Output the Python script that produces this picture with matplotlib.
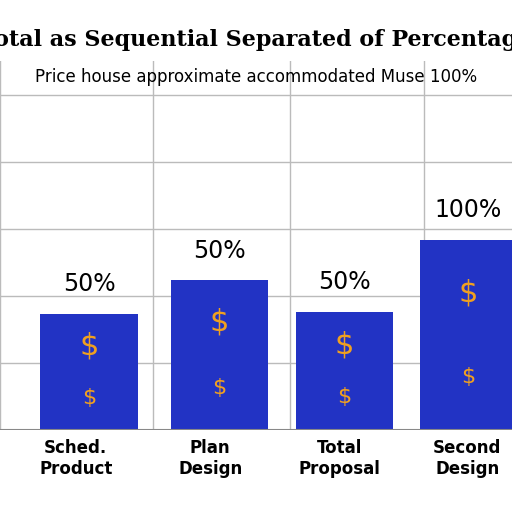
import matplotlib
matplotlib.use("Agg")
import matplotlib.pyplot as plt

categories = ["Sched.\nProduct", "Plan\nDesign", "Total\nProposal", "Second\nDesign"]
values = [52, 67, 53, 85]
labels = ["50%", "50%", "50%", "100%"]

fig = plt.figure(figsize=(5.12, 5.12), dpi=100)
ax = fig.add_axes([0.0, 0.16, 1.0, 0.72])
x = [0.96, 2.22, 3.43, 4.63]
ax.bar(x, values, width=0.94, color="#2233c4", zorder=3)
ax.set_xlim(0.25, 5.05)
ax.set_ylim(0, 165)
ax.set_xticks([0.1, 1.58, 2.9, 4.2])
ax.set_yticks([0, 30, 60, 90, 120, 150])
ax.grid(True, color="#bbbbbb", lw=1, zorder=0)
ax.tick_params(length=0, labelbottom=False, labelleft=False)
for s in ax.spines.values():
    s.set_visible(False)
ax.axhline(0, color="#888888", lw=1.5, zorder=4)
for xi, v, l in zip(x, values, labels):
    ax.text(xi, v + 8, l, ha="center", va="bottom", fontsize=17)
    ax.text(xi, v * 0.72, "$", ha="center", va="center", fontsize=22, color="#f0a020", zorder=5)
    ax.text(xi, v * 0.28, "$", ha="center", va="center", fontsize=16, color="#f0a020", zorder=5)
for xi, c in zip(x, categories):
    fig.text((xi - 0.25) / 4.8, 0.105, c, ha="center", va="center", fontsize=12, fontweight="bold")
fig.text(0.5, 0.91, "Total as Sequential Separated of Percentage", ha="center", fontsize=16,
         family="DejaVu Serif", fontweight="bold")
fig.text(0.5, 0.84, "Price house approximate accommodated Muse 100%", ha="center", fontsize=12)
fig.savefig("out.png", dpi=100)
